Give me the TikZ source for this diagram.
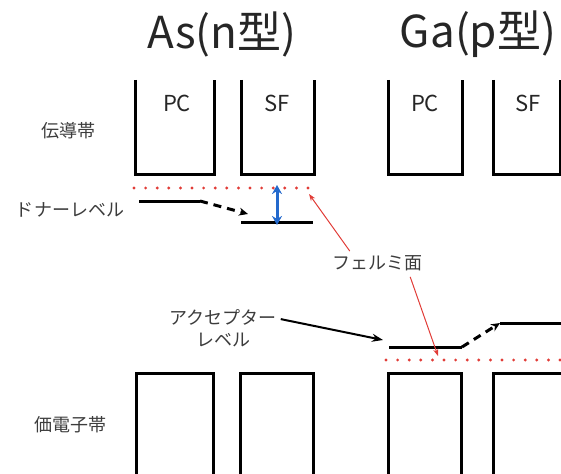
\documentclass[tikz,border=0pt]{standalone}
\usepackage{fontspec}
\setmainfont{Noto Sans CJK JP}
\usetikzlibrary{arrows.meta}
\definecolor{fermi}{RGB}{225,60,55}
\definecolor{gapblue}{RGB}{35,105,205}
\definecolor{txt}{RGB}{60,60,60}
\tikzset{
  band/.style={line width=3pt, line join=miter},
  level/.style={line width=3pt},
  fermiline/.style={fermi, line width=3.2pt, dash pattern=on 0pt off 11.6pt, line cap=round},
  shiftarrow/.style={line width=3pt, dash pattern=on 8pt off 6pt, -{Stealth[length=9pt,width=8pt]}},
  redarrow/.style={fermi, line width=1pt, -{Stealth[length=7pt,width=5pt]}},
  blackarrow/.style={line width=2pt, -{Stealth[length=11pt,width=8pt]}},
  gaparrow/.style={gapblue, line width=3pt, {Stealth[length=9pt,width=10pt]}-{Stealth[length=9pt,width=10pt]}},
  title/.style={font=\fontsize{44}{46}\selectfont, text=black!85, inner sep=0pt},
  boxlabel/.style={font=\fontsize{22}{24}\selectfont, text=black!85, inner sep=0pt},
  jlabel/.style={font=\fontsize{18}{20}\selectfont, text=txt, inner sep=0pt, align=center},
}
\begin{document}
\begin{tikzpicture}[x=1pt,y=-1pt]
\useasboundingbox (0,0) rectangle (561,473);
\begin{scope}
\clip (0,0) rectangle (561,473);
% titles
\node[title] (tAs) at (222,34) {As(n型)};
\node[title] (tGa) at (478,34) {Ga(p型)};
% conduction bands
\draw[band] (135,80) -- (135,174) -- (214,174) -- (214,80);
\draw[band] (241,80) -- (241,174) -- (314,174) -- (314,80);
\draw[band] (388,80) -- (388,174) -- (462,174) -- (462,80);
\draw[band] (493,80) -- (493,174) -- (560,174) -- (560,80);
\node[boxlabel] (pc1) at (177,103) {PC};
\node[boxlabel] (sf1) at (277,103) {SF};
\node[boxlabel] (pc2) at (425,103) {PC};
\node[boxlabel] (sf2) at (528,103) {SF};
% valence bands
\draw[band] (136,480) -- (136,373) -- (213,373) -- (213,480);
\draw[band] (240,480) -- (240,373) -- (313,373) -- (313,480);
\draw[band] (388,480) -- (388,373) -- (461,373) -- (461,480);
\draw[band] (493,480) -- (493,373) -- (575,373);
% side labels
\node[jlabel] (cb) at (68,131) {伝導帯};
\node[jlabel] (vb) at (70,425) {価電子帯};
\node[jlabel] (dl) at (70,210) {ドナーレベル};
\node[jlabel] (al) at (223,328) {アクセプター\\[2pt]レベル};
\node[jlabel] (fm) at (377,263) {フェルミ面};
% fermi levels
\coordinate (f1a) at (134,188);
\coordinate (f1b) at (316,188);
\draw[fermiline] (f1a) -- (f1b);
\coordinate (f2a) at (386,360);
\coordinate (f2b) at (565,360);
\draw[fermiline] (f2a) -- (f2b);
% donor levels
\coordinate (d1a) at (139,201);
\coordinate (d1b) at (200,201);
\coordinate (d2a) at (241,222);
\coordinate (d2b) at (313,222);
\draw[level] (d1a) -- (d1b);
\draw[level] (d2a) -- (d2b);
\draw[shiftarrow] (d1b) -- (248,214);
% acceptor levels
\coordinate (a1a) at (389,347);
\coordinate (a1b) at (462,347);
\coordinate (a2a) at (500,323);
\coordinate (a2b) at (565,323);
\draw[level] (a1a) -- (a1b);
\draw[level] (a2a) -- (a2b);
\draw[shiftarrow] (a1b) -- (a2a);
% gap arrow
\coordinate (g1) at (277,185);
\coordinate (g2) at (277,225);
\draw[gaparrow] (g1) -- (g2);
% label arrows
\draw[redarrow] (fm.north west) ++(18,-4) -- (309,194);
\draw[redarrow] (fm.south east) ++(-12,6) -- (438,356);
\draw[blackarrow] (al.north east) ++(4,10) -- (383,340);
\end{scope}
\end{tikzpicture}
\end{document}
